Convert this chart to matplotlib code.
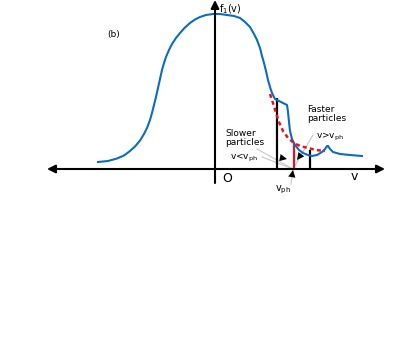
import numpy as np
import matplotlib
matplotlib.use('Agg')
from matplotlib import pyplot as plt

# schematic curve f1(v), traced in picture pixels (x right, y down)
curve_x = [98, 108, 117, 124, 130, 135, 140, 144, 147, 150, 152, 154, 156, 158, 160, 162,
           164, 166, 169, 172, 176, 180, 185, 190, 195, 200, 206, 213, 220, 227, 234,
           240, 245, 250, 254, 257, 260, 262, 264, 266, 268, 270, 272, 275, 279, 283,
           287, 288, 289, 290, 292, 295, 299, 303, 308, 312, 317, 322, 325, 327, 328,
           330, 333, 340, 350, 362]
curve_y = [162, 161, 158.5, 155.5, 151, 146.5, 140.5, 134, 128, 120, 113, 105, 97, 88, 79, 70,
           63, 57, 50, 44, 38, 33, 27.5, 23, 19.5, 17, 15, 14, 14, 15, 16,
           18, 22, 27, 34, 40, 48, 56, 63, 71, 80, 87, 93, 99, 101, 103,
           105, 112, 122, 131, 139, 145, 150, 153, 155, 156, 155, 152, 149, 146, 146,
           149, 152, 154, 155, 156]

# dashed reference curve
dash_x = [270, 273, 276, 279, 283, 288, 294, 300, 308, 316, 325]
dash_y = [94, 103, 113, 122, 131, 138, 143, 146, 148, 150, 151]

# vertical markers: x, top, colour
bars_x = [277, 294, 310]
bars_top = [98, 143, 150]
bars_col = ['black', '#e8141b', 'black']

axis_y = 169
yaxis_x = 215

fig = plt.figure(figsize=(3.99, 3.49), dpi=100)
ax = fig.add_axes([0, 0, 1, 1])
ax.set_xlim(0, 399)
ax.set_ylim(349, 0)
ax.axis('off')

head = dict(arrowstyle='-|>', color='black', lw=1.5, mutation_scale=12,
            shrinkA=0, shrinkB=0)
# axes
ax.annotate('', xy=(47, axis_y), xytext=(215, axis_y), arrowprops=head)
ax.annotate('', xy=(385, axis_y), xytext=(215, axis_y), arrowprops=head)
ax.annotate('', xy=(yaxis_x, 0), xytext=(yaxis_x, 183), arrowprops=head)

# gray pointer lines
gray = '#c8c8c8'
for sx, sy in [(257, 149), (262, 157), (313, 135)]:
    ax.plot([sx, 293], [sy, 169], color=gray, lw=0.8)
ax.plot([291, 293], [184, 170], color=gray, lw=0.8)

# small arrowheads
small = dict(arrowstyle='-|>', color='black', lw=0, mutation_scale=13,
             shrinkA=0, shrinkB=0)
ax.annotate('', xy=(287, 159), xytext=(272, 156), arrowprops=small)
ax.annotate('', xy=(297, 160), xytext=(306, 148), arrowprops=small)
ax.annotate('', xy=(293, 170), xytext=(291, 182), arrowprops=small)

# markers
for x, top, c in zip(bars_x, bars_top, bars_col):
    ax.plot([x, x], [top, axis_y], color=c, lw=1.6, solid_capstyle='butt')

ax.plot(curve_x, curve_y, color='#0a6ebd', lw=1.5)
ax.plot(dash_x, dash_y, color='#e8141b', lw=1.8, ls=(0, (1.6, 1.3)))

# labels
fs = 6.5
ax.text(219, 9, r'f$_1$(v)', fontsize=7, va='center', ha='left')
ax.text(107, 35, '(b)', fontsize=6.5, va='center', ha='left')
ax.text(222, 178, 'O', fontsize=9, va='center', ha='left')
ax.text(351, 177, 'v', fontsize=9, va='center', ha='left')
ax.text(225, 138, 'Slower\nparticles', fontsize=fs, va='center', ha='left',
        linespacing=1.1)
ax.text(230, 158, r'v<v$_{\rm ph}$', fontsize=fs, va='center', ha='left')
ax.text(307, 114, 'Faster\nparticles', fontsize=fs, va='center', ha='left',
        linespacing=1.1)
ax.text(316, 137, r'v>v$_{\rm ph}$', fontsize=fs, va='center', ha='left')
ax.text(275, 190, r'v$_{\rm ph}$', fontsize=7, va='center', ha='left')

plt.savefig('out.png', dpi=100)
